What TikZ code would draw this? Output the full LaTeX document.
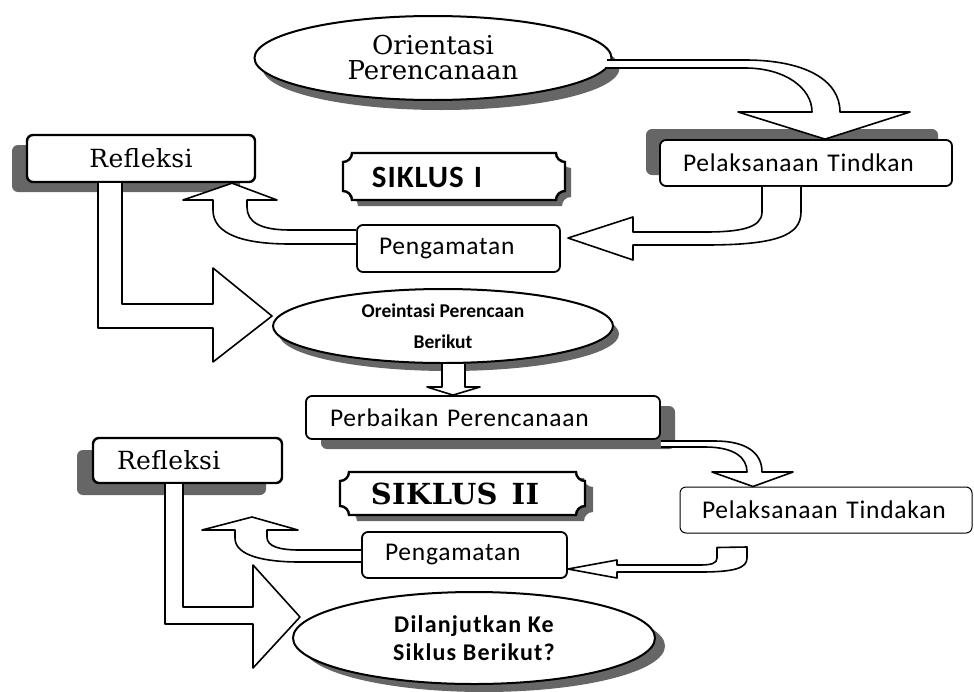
\documentclass[tikz,border=0pt]{standalone}
\usepackage{fontspec}
\setmainfont{DejaVu Serif}
\newfontfamily\serifnarrow[LetterSpace=1.5]{DejaVu Serif}
\newfontfamily\calreg{Carlito}
\newfontfamily\calsp[LetterSpace=3]{Carlito}
\newfontfamily\calmid[LetterSpace=5]{Carlito}
\usetikzlibrary{positioning}
\usetikzlibrary{calc}
\usetikzlibrary{shapes.geometric}
\usetikzlibrary{shadows}

\newcommand{\oritext}{\fontsize{26}{25}\selectfont}
\newcommand{\seriftext}{\serifnarrow\fontsize{25}{25}\selectfont}
\newcommand{\sanstext}{\calsp\fontsize{25.5}{26}\selectfont}
\newcommand{\boldsans}{\calreg\bfseries\fontsize{19.5}{31}\selectfont}
\newcommand{\boldsanssp}{\calmid\bfseries\fontsize{24}{28}\selectfont}
\newcommand{\siklusone}{\calsp\bfseries\fontsize{31}{31}\selectfont}
\newcommand{\siklustwo}{\serifnarrow\bfseries\fontsize{29}{29}\selectfont}

% plaque with hollow corners: x1,y1,x2,y2,r (y grows downward)
\newcommand{\plaque}[5]{(#1+#5,#2) -- (#3-#5,#2) .. controls (#3-#5,#2+0.55*#5) and (#3-0.55*#5,#2+#5) .. (#3,#2+#5)
  -- (#3,#4-#5) .. controls (#3-0.55*#5,#4-#5) and (#3-#5,#4-0.55*#5) .. (#3-#5,#4)
  -- (#1+#5,#4) .. controls (#1+#5,#4-0.55*#5) and (#1+0.55*#5,#4-#5) .. (#1,#4-#5)
  -- (#1,#2+#5) .. controls (#1+0.55*#5,#2+#5) and (#1+#5,#2+0.55*#5) .. (#1+#5,#2) -- cycle}

\begin{document}
\begin{tikzpicture}[x=1pt, y=-1pt,
    box/.style={draw, line width=1.8pt, rounded corners=6pt, fill=white, inner ysep=0pt},
    oval/.style={ellipse, draw, line width=2pt, fill=white, inner sep=0pt, align=center},
    dropshade/.style 2 args={general shadow={fill=black!60, shadow xshift=#1, shadow yshift=#2}},
    blockarrow/.style={draw, fill=white, line width=1.6pt, line join=round}]
    \useasboundingbox (0,0) rectangle (974,691);

    % siklus I
    \node (ori) [oval, dropshade={8pt}{-10pt}, minimum width=357pt, minimum height=84pt, font=\oritext] at (433,58) {Orientasi\\Perencanaan};
    \node (ref1) [box, line width=2.4pt, dropshade={-15pt}{-10pt}, minimum width=228pt, minimum height=47pt, font=\seriftext] at (141,158.5) {Refleksi};
    \node (pel1) [box, dropshade={-14pt}{11pt}, minimum height=46pt, text width=246pt, inner xsep=23pt, align=left, font=\sanstext] at (806,163) {Pelaksanaan Tindkan};
    \fill[black!60] \plaque{349}{159}{571}{206}{9};
    \draw[line width=2.4pt, fill=white] \plaque{343}{153}{565}{200}{9};
    \node (s1) [font=\siklusone] at (427,177) {SIKLUS\hspace{10pt}I};
    \node (pen1) [box, minimum height=47pt, text width=159pt, inner xsep=22pt, align=left, font=\sanstext] at (458.5,248.5) {Pengamatan};
    \node (orib) [oval, dropshade={6pt}{-8pt}, minimum width=340pt, minimum height=74pt, font=\boldsans] at (443,326) {Oreintasi Perencaan\\Berikut};

    % siklus II
    \node (perb) [box, dropshade={15pt}{-10pt}, minimum height=43pt, text width=306pt, inner xsep=24pt, align=left, font=\sanstext] at (483,417.5) {Perbaikan Perencanaan};
    \node (ref2) [box, line width=2.4pt, dropshade={-16pt}{-12pt}, minimum height=45pt, text width=141pt, inner xsep=24pt, align=left, font=\seriftext] at (187.5,460.5) {Refleksi};
    \fill[black!60] \plaque{348}{478}{593}{521}{9};
    \draw[line width=2.4pt, fill=white] \plaque{340}{472}{585}{515}{9};
    \node (s2) [font=\siklustwo] at (455,494) {SIKLUS\hspace{14pt}II};
    \node (pel2) [box, line width=1pt, minimum height=46pt, text width=248pt, inner xsep=22pt, align=left, font=\sanstext] at (826,510) {Pelaksanaan Tindakan};
    \node (pen2) [box, minimum height=46pt, text width=159pt, inner xsep=23pt, align=left, font=\sanstext] at (464.5,555) {Pengamatan};
    \node (lanjut) [oval, dropshade={10pt}{-8pt}, minimum width=362pt, minimum height=92pt, font=\boldsanssp] at (474,638) {Dilanjutkan Ke\\Siklus Berikut?};

    % block arrows
    \draw[blockarrow] (607,60) -- (745,60) .. controls (805,60) and (840,80) .. (840,112) -- (910,112) -- (825,0 |- pel1.north) -- (738,112) -- (812,112) .. controls (812,88) and (785,68) .. (745,68) -- (605,68);
    \draw[blockarrow] (762,0 |- pel1.south) -- (762,212) .. controls (762,228) and (740,232) .. (705,232) -- (633,232) -- (633,217) -- (568,238) -- (633,260) -- (633,245) -- (705,245) .. controls (775,245) and (801,236) .. (801,212) -- (801,0 |- pel1.south);
    \draw[blockarrow] (pen1.west |- 0,230) -- (290,230) .. controls (260,230) and (247,222) .. (247,207) -- (247,200) -- (277,200) -- (232,0 |- ref1.south) -- (183,200) -- (213,200) -- (213,210) .. controls (213,235) and (245,244) .. (290,244) -- (pen1.west |- 0,244);
    \draw[blockarrow] (122,0 |- ref1.south) -- (122,304) -- (213,304) -- (213,268) -- (orib.west |- 0,316) -- (213,362) -- (213,328) -- (98,328) -- (98,0 |- ref1.south);
    \draw[blockarrow] (442,0 |- orib.south) -- (442,387) -- (427,387) -- (453,0 |- perb.north) -- (480,387) -- (465,387) -- (465,0 |- orib.south);
    \draw[blockarrow] (perb.east |- 0,441) -- (715,441) .. controls (745,441) and (762,452) .. (762,472) -- (793,472) -- (753,0 |- pel2.north) -- (712,472) -- (747,472) .. controls (747,458) and (735,447) .. (705,447) -- (perb.east |- 0,447);
    \draw[blockarrow] ($(717,0 |- pel2.south)+(0,14)$) -- (747,547) -- (747,558) .. controls (747,568) and (735,572) .. (700,572) -- (617,572) -- (617,578) -- (pen2.east |- 0,569) -- (617,560) -- (617,565) -- (700,565) .. controls (712,565) and (717,563) .. (717,558) -- cycle;
    \draw[blockarrow] (pen2.west |- 0,550) -- (300,550) .. controls (278,550) and (267,546) .. (267,537) -- (267,530) -- (298,530) -- (252,517) -- (202,530) -- (235,530) -- (235,538) .. controls (235,556) and (265,562) .. (300,562) -- (pen2.west |- 0,562);
    \draw[blockarrow] (183,0 |- ref2.south) -- (183,607) -- (253,607) -- (253,565) -- (300,617) -- (253,668) -- (253,624) -- (165,624) -- (165,0 |- ref2.south);
\end{tikzpicture}
\end{document}
